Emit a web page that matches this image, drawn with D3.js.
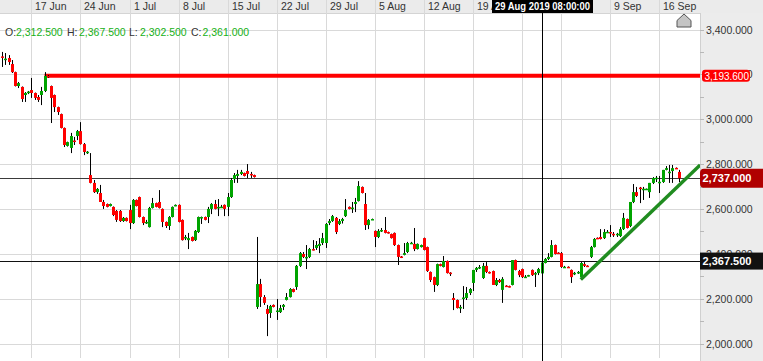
<!DOCTYPE html>
<html>
<head>
<meta charset="utf-8">
<script src="https://cdn.jsdelivr.net/npm/d3@7"></script>
<style>
	body { margin: 0; background: #ffffff; }
	svg { display: block; font-family: "Liberation Sans", Arial, sans-serif; }
</style>
</head>
<body>
<div id="chart"></div>
<script>

const opens = [3280,3264,3273,3246,3210,3148,3144,3108,3119,3130,3117,3099,3108,3126,3193,3148,3108,3054,3023,2961,
	2881,2872,2905,2925,2947,2889,2852,2751,2716,2675,2671,2631,2622,2613,2609,2591,2591,2546,2560,2595,
	2537,2640,2653,2564,2537,2519,2604,2626,2631,2600,2542,2524,2564,2616,2618,2551,2470,2461,2475,2461,
	2497,2562,2564,2564,2600,2622,2607,2607,2618,2609,2653,2733,2747,2756,2760,2769,2756,2751,2163,2265,
	2207,2154,2136,2172,2143,2140,2163,2194,2207,2243,2252,2346,2399,2381,2386,2421,2426,2435,2448,2448,
	2537,2546,2560,2533,2546,2568,2609,2602,2622,2635,2698,2622,2528,2553,2502,2475,2504,2506,2497,2488,
	2493,2439,2388,2395,2408,2446,2444,2421,2430,2470,2430,2319,2296,2261,2354,2341,2368,2316,2203,2194,
	2158,2201,2203,2225,2270,2328,2339,2292,2346,2319,2323,2261,2283,2239,2258,2256,2261,2372,2323,2332,
	2294,2301,2328,2310,2314,2312.5,2359,2377,2386,2439,2405,2403,2340,2342,2328,2312,2314,2296,2354,2347,
	2386,2430,2471,2475,2470,2496,2497,2489,2487,2479,2510,2555,2524,2631,2675,2695,2687,2688,2675,2716,
	2736,2719,2720,2774,2764,2769,2783,2765];

const highs = [3300,3295,3286,3264,3212,3166,3146,3121,3126,3184,3119,3108,3144,3210,3197,3150,3110,3056,3025,2963,
	2900,2939,2921,2952,2987,2894,2858,2849,2729,2693,2707,2640,2624,2624,2611,2595,2595,2564,2562,2618,
	2644,2642,2655,2566,2551,2609,2649,2628,2684,2602,2544,2568,2611,2620,2620,2553,2484,2493,2477,2506,
	2566,2566,2566,2609,2626,2640,2644,2618,2620,2671,2738,2760,2774,2774,2762,2800,2765,2753,2475,2288,
	2216,2172,2172,2174,2198,2172,2176,2225,2247,2245,2350,2408,2408,2439,2426,2461,2457,2470,2493,2537,
	2555,2573,2564,2555,2560,2644,2611,2631,2649,2724,2700,2671,2555,2557,2504,2510,2515,2564,2499,2490,
	2495,2441,2390,2448,2453,2453,2515,2446,2441,2472,2432,2321,2298,2356,2356,2390,2370,2318,2225,2196,
	2172,2256,2252,2247,2328,2341,2350,2359,2363,2321,2325,2292,2288,2296,2260,2258,2372,2374,2328,2334,
	2305,2306,2330,2319,2337,2367.5,2381,2403,2461,2441,2407,2408,2346,2344,2330,2319,2323,2363,2363,2349,
	2435,2470,2473,2510,2510,2506,2528,2497,2493,2519,2582,2557,2631,2711,2698,2698,2698,2691,2716,2742,
	2747,2747,2774,2791,2796,2796,2785,2774];

const lows = [3233,3242,3242,3206,3146,3139,3077,3077,3112,3095,3086,3077,3063,3121,3184,2983,3032,3019,2959,2876,
	2878,2849,2885,2907,2887,2840,2845,2714,2671,2667,2631,2600,2607,2611,2568,2542,2542,2542,2544,2510,
	2533,2611,2562,2528,2533,2517,2602,2607,2602,2519,2515,2506,2562,2612,2540,2459,2461,2421,2455,2457,
	2493,2533,2549,2537,2577,2598,2568,2604,2568,2568,2649,2716,2716,2751,2745,2738,2738,2740,2154,2163,
	2172,2033,2114,2161,2105,2136,2149,2192,2205,2228,2239,2341,2381,2332,2381,2415,2417,2403,2439,2426,
	2528,2542,2488,2528,2535,2564,2598,2582,2586,2633,2669,2506,2510,2551,2430,2470,2497,2491,2490,2468,
	2435,2350,2381,2393,2403,2444,2412,2419,2428,2415,2319,2274,2230,2256,2344,2339,2312,2301,2149,2156,
	2136,2154,2194,2216,2234,2319,2332,2288,2314,2312,2261,2256,2270,2181,2252,2250,2259,2326,2296,2292,
	2292,2299,2301,2252,2305,2302.5,2357,2372,2384,2397,2399,2337,2337,2337,2270,2305,2310,2283,2341,2343,
	2381,2428,2467,2464,2466,2493,2475,2475,2475,2475,2506,2513,2519,2626,2653,2626,2640,2685,2649,2711,
	2720,2671,2716,2772,2716,2716,2779,2720];

const closes = [3275,3270,3255,3210,3148,3161,3090,3117,3123,3117,3095,3086,3126,3193,3190,3095,3054,3032,2961,2885,
	2898,2925,2901,2947,2889,2854,2855,2716,2675,2689,2631,2613,2609,2622,2573,2551,2546,2560,2546,2537,
	2640,2613,2564,2537,2542,2604,2626,2609,2604,2542,2524,2564,2609,2618,2542,2461,2475,2470,2457,2502,
	2564,2564,2551,2600,2622,2600,2609,2610,2600,2653,2729,2751,2756,2765,2747,2756,2751,2742,2265,2207,
	2181,2132,2167,2163,2147,2158,2172,2207,2243,2230,2346,2403,2386,2386,2421,2417,2439,2444,2470,2533,
	2546,2568,2497,2546,2555,2595,2600,2606,2631,2702,2671,2528,2551,2555,2475,2502,2506,2493,2493,2470,
	2439,2386,2384,2403,2448,2449,2421,2444,2439,2417,2323,2283,2261,2354,2346,2368,2314,2312,2194,2158,
	2163,2205,2225,2243,2328,2337,2341,2346,2319,2314,2261,2283,2274,2288,2256,2252,2372,2328,2305,2296,
	2298,2305,2305,2314,2332,2361,2377,2386,2439,2399,2403,2341,2342,2339,2296,2315,2319,2359,2346,2345,
	2430,2466,2469,2466,2497,2498,2493,2488,2489,2510,2560,2515,2631,2675,2658,2692,2690,2690,2716,2738,
	2739,2721,2774,2782,2766,2782,2781,2737];

const weekLabels = ['17 Jun','24 Jun','1 Jul','8 Jul','15 Jul','22 Jul','29 Jul','5 Aug','12 Aug','19 Aug','26 Aug','2 Sep','9 Sep','16 Sep'];
const weekIndex = [9,24,39,54,69,84,99,114,129,144,159,171,186,201];
const priceTicks = [2000,2200,2400,2600,2800,3000,3200,3400];
const minorTicks = [2100,2300,2500,2700,2900,3100,3300];

const resistanceLevel = 3193.6;
const resistanceStart = 13;
const lastPrice = 2737;
const cursorLevel = 2367.5;
const cursorIndex = 165;
const cursorLabel = '29 Aug 2019 08:00:00';
const trendStart = [177, 2285];
const trendEnd = [213.5, 2796];

const width = 763;
const height = 361;
const dimensions = { left: 0, right: 700, top: 14, bottom: 358 };
const fmt = d3.format(',.3f');

let svg = d3.select('#chart')
	.append('svg')
	.attr('width', width)
	.attr('height', height);

let x = d3.scaleLinear()
	.domain([0, opens.length - 1])
	.range([2, 678.9]);

let y = d3.scaleLinear()
	.domain([2000, 3400])
	.range([343.5, 29.5]);

const cursorX = Math.round(x(cursorIndex)) + 0.5;
const cursorBox = { x: cursorX - 50.5, w: 101 };

let defs = svg.append('defs');
defs.append('clipPath')
	.attr('id', 'plotClip')
	.append('rect')
	.attr('x', dimensions.left)
	.attr('y', dimensions.top)
	.attr('width', dimensions.right - dimensions.left)
	.attr('height', dimensions.bottom - dimensions.top);

defs.append('clipPath')
	.attr('id', 'dateClip')
	.append('rect')
	.attr('x', 0).attr('y', 0)
	.attr('width', cursorBox.x).attr('height', 13);

// top date band and price panel
svg.append('rect')
	.attr('x', 0).attr('y', 0)
	.attr('width', width).attr('height', 13)
	.attr('fill', '#ebebeb');

svg.append('line')
	.attr('x1', 0).attr('x2', width)
	.attr('y1', 13.5).attr('y2', 13.5)
	.attr('stroke', '#d4d4d4');

svg.append('rect')
	.attr('x', dimensions.right).attr('y', 13)
	.attr('width', width - dimensions.right).attr('height', height - 13)
	.attr('fill', '#ececec');

svg.append('line')
	.attr('x1', dimensions.right + 0.5).attr('x2', dimensions.right + 0.5)
	.attr('y1', 13).attr('y2', height)
	.attr('stroke', '#d0d0d0');

// grid
svg.append('g').selectAll('line')
	.data(weekIndex)
	.enter().append('line')
	.attr('x1', d => Math.round(x(d)) + 0.5)
	.attr('x2', d => Math.round(x(d)) + 0.5)
	.attr('y1', 0)
	.attr('y2', dimensions.bottom)
	.attr('stroke', '#d9d9d9');

svg.append('g').selectAll('line')
	.data(priceTicks)
	.enter().append('line')
	.attr('x1', dimensions.left)
	.attr('x2', dimensions.right)
	.attr('y1', d => Math.round(y(d)) + 0.5)
	.attr('y2', d => Math.round(y(d)) + 0.5)
	.attr('stroke', '#d9d9d9');

// date labels; the ones under the cursor label are hidden like the original
const visibleWeeks = weekIndex.filter(d => {
	const lx = Math.round(x(d)) + 4;
	return lx < cursorBox.x || lx > cursorBox.x + cursorBox.w;
});

svg.append('g').selectAll('text')
	.data(visibleWeeks)
	.enter().append('text')
	.attr('clip-path', d => x(d) < cursorBox.x ? 'url(#dateClip)' : null)
	.attr('x', d => Math.round(x(d)) + 4)
	.attr('y', 10)
	.attr('font-size', '10.5px')
	.attr('fill', '#333333')
	.text(d => weekLabels[weekIndex.indexOf(d)]);

let plot = svg.append('g').attr('clip-path', 'url(#plotClip)');

// horizontal levels
plot.append('line')
	.attr('x1', x(resistanceStart)).attr('x2', dimensions.right)
	.attr('y1', y(resistanceLevel)).attr('y2', y(resistanceLevel))
	.attr('stroke', '#ff0000')
	.attr('stroke-width', 4);

plot.append('line')
	.attr('x1', dimensions.left).attr('x2', dimensions.right)
	.attr('y1', Math.round(y(lastPrice)) + 0.5).attr('y2', Math.round(y(lastPrice)) + 0.5)
	.attr('stroke', '#3a3a3a');

plot.append('line')
	.attr('x1', dimensions.left).attr('x2', dimensions.right)
	.attr('y1', Math.round(y(cursorLevel)) + 0.5).attr('y2', Math.round(y(cursorLevel)) + 0.5)
	.attr('stroke', '#111111');

// candles
let candles = plot.append('g').selectAll('g')
	.data(opens.map((o, i) => ({ i: i, o: o, h: highs[i], l: lows[i], c: closes[i] })))
	.enter().append('g');

candles.append('line')
	.attr('x1', d => Math.round(x(d.i)) + 0.5)
	.attr('x2', d => Math.round(x(d.i)) + 0.5)
	.attr('y1', d => y(d.h))
	.attr('y2', d => y(d.l))
	.attr('stroke', '#000000');

candles.append('rect')
	.attr('x', d => Math.round(x(d.i)) - 1)
	.attr('width', 3)
	.attr('y', d => y(Math.max(d.o, d.c)))
	.attr('height', d => Math.max(1.5, Math.abs(y(d.o) - y(d.c))))
	.attr('fill', d => d.c >= d.o ? '#00a400' : '#ff0000');

// trend line
plot.append('line')
	.attr('x1', x(trendStart[0])).attr('y1', y(trendStart[1]))
	.attr('x2', x(trendEnd[0])).attr('y2', y(trendEnd[1]))
	.attr('stroke', '#208c20')
	.attr('stroke-width', 3.5);

// crosshair
svg.append('line')
	.attr('x1', cursorX).attr('x2', cursorX)
	.attr('y1', 13).attr('y2', height)
	.attr('stroke', '#000000');

svg.append('rect')
	.attr('x', cursorBox.x).attr('y', 0)
	.attr('width', cursorBox.w).attr('height', 13)
	.attr('fill', '#000000');

svg.append('text')
	.attr('x', cursorX)
	.attr('y', 10)
	.attr('text-anchor', 'middle')
	.attr('font-size', '10px')
	.attr('font-weight', 'bold')
	.attr('textLength', 95)
	.attr('lengthAdjust', 'spacingAndGlyphs')
	.attr('fill', '#ffffff')
	.text(cursorLabel);

// scroll marker
svg.append('path')
	.attr('d', 'M677,20.5 L684,14 L691,20.5 L691,27 L677,27 Z')
	.attr('fill', '#c4c4c4')
	.attr('stroke', '#555555');

// OHLC readout
const readout = [
	{ k: 'O:', v: opens[cursorIndex], kx: 5, vx: 16 },
	{ k: 'H:', v: highs[cursorIndex], kx: 67, vx: 79 },
	{ k: 'L:', v: lows[cursorIndex], kx: 129, vx: 140 },
	{ k: 'C:', v: closes[cursorIndex], kx: 191, vx: 202.5 }
];
let ro = svg.append('g').attr('font-size', '10.5px');
ro.selectAll('.k').data(readout).enter().append('text')
	.attr('x', d => d.kx).attr('y', 36)
	.attr('fill', '#333333')
	.text(d => d.k);
ro.selectAll('.v').data(readout).enter().append('text')
	.attr('x', d => d.vx).attr('y', 36)
	.attr('fill', '#16b016')
	.text(d => fmt(d.v));

// price axis
svg.append('g').selectAll('line')
	.data(minorTicks.concat(priceTicks))
	.enter().append('line')
	.attr('x1', dimensions.right).attr('x2', dimensions.right + 4)
	.attr('y1', d => Math.round(y(d)) + 0.5).attr('y2', d => Math.round(y(d)) + 0.5)
	.attr('stroke', '#b8b8b8');

svg.append('g').selectAll('text')
	.data(priceTicks)
	.enter().append('text')
	.attr('x', 706)
	.attr('y', d => y(d) + 4)
	.attr('font-size', '10.5px')
	.attr('fill', '#333333')
	.text(d => fmt(d));

const badges = [
	{ v: resistanceLevel, x: 702, w: 48, h: 12, r: 3, fill: '#ff0000', bold: false, size: '10px' },
	{ v: lastPrice, x: 700, w: 70, h: 19, r: 4, fill: '#b00000', bold: true, size: '11px' },
	{ v: cursorLevel, x: 700, w: 63, h: 17, r: 0, fill: '#111111', bold: true, size: '11px' }
];

let badge = svg.append('g').selectAll('g')
	.data(badges)
	.enter().append('g');

badge.append('rect')
	.attr('x', d => d.x)
	.attr('y', d => y(d.v) - d.h / 2)
	.attr('width', d => d.w)
	.attr('height', d => d.h)
	.attr('rx', d => d.r)
	.attr('fill', d => d.fill);

badge.append('text')
	.attr('x', d => d.x + 2.5)
	.attr('y', d => y(d.v) + 4)
	.attr('font-size', d => d.size)
	.attr('font-weight', d => d.bold ? 'bold' : 'normal')
	.attr('fill', '#ffffff')
	.text(d => fmt(d.v));

</script>
</body>
</html>
